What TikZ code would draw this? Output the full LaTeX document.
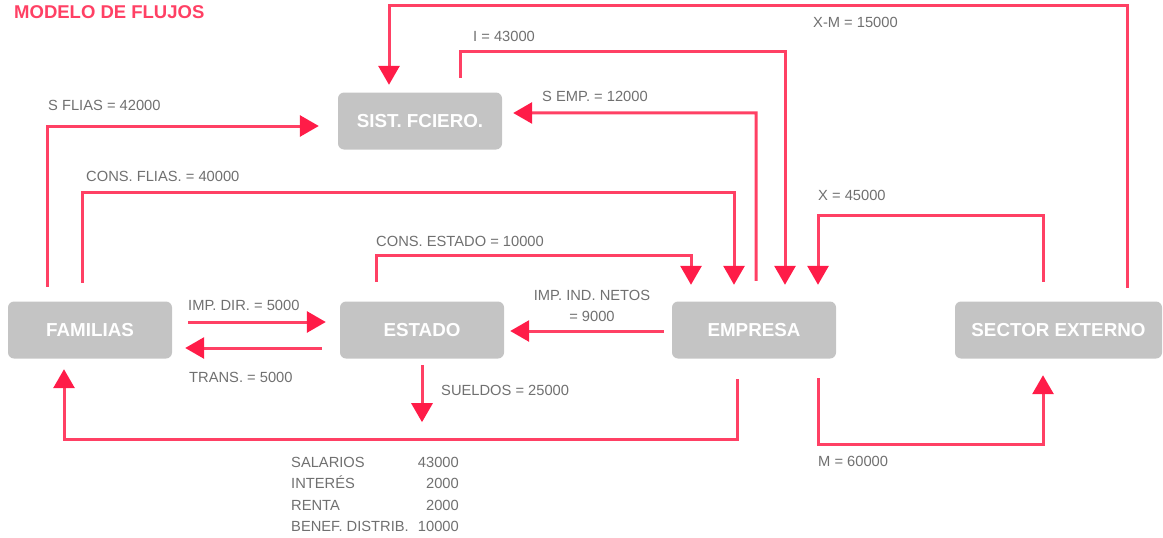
\documentclass[tikz,border=0pt]{standalone}
\usepackage{fontspec}
\setmainfont{Liberation Sans}
\usetikzlibrary{calc, arrows.meta}
\definecolor{flowred}{RGB}{255,64,100}
\definecolor{tipred}{RGB}{255,28,72}
\definecolor{boxgray}{RGB}{196,196,196}
\definecolor{txtgray}{RGB}{112,112,112}

\begin{document}
\begin{tikzpicture}[x=1pt, y=-1pt,
  sector/.style={fill=boxgray, rounded corners=6pt, minimum width=164pt,
    minimum height=57pt, inner sep=0pt, text=white,
    font=\fontsize{18.8}{20}\selectfont\bfseries},
  flow/.style={draw=flowred, line width=3pt,
    -{Triangle[width=21pt, length=19pt, color=tipred]}},
  lbl/.style={text=txtgray, font=\fontsize{14.7}{16}\selectfont,
    inner sep=0pt, text height=10.5pt, text depth=0pt}]
  \useasboundingbox (0,0) rectangle (1163,538);
  \node[anchor=west, inner sep=0pt, text=flowred, text height=13.3pt, text depth=0pt,
    font=\fontsize{18.5}{20}\selectfont\bfseries] (title) at (14,12) {MODELO DE FLUJOS};
  % sectores
  \node[sector] (sist) at (420,121) {SIST. FCIERO.};
  \node[sector] (fam) at (90,330) {FAMILIAS};
  \node[sector] (est) at (422,330) {ESTADO};
  \node[sector] (emp) at (754,330) {EMPRESA};
  \node[sector, minimum width=207pt] (ext) at (1058.5,330) {SECTOR EXTERNO};
  % flujos por arriba
  \draw[flow] ($(ext.north)+(68.5,-13.5)$) -- ++(0,-282) -| ($(sist.north)+(-31,-7.5)$);
  \draw[flow] ($(sist.north)+(40,-14.5)$) -- ++(0,-26) -| ($(emp.north)+(31,-16.5)$);
  \draw[flow] ($(emp.north)+(2,-20.5)$) -- ++(0,-168) -- ($(sist.east)+(11,-8)$);
  \draw[flow] ($(fam.north)+(-43,-14.5)$) |- ($(sist.west)+(-19,5)$);
  \draw[flow] ($(fam.north)+(-8,-18.5)$) -- ++(0,-90) -| ($(emp.north)+(-20,-16.5)$);
  \draw[flow] ($(est.north)+(-46,-19.5)$) -- ++(0,-26) -| ($(emp.north)+(-63,-16.5)$);
  \draw[flow] ($(ext.north)+(-15.5,-19.5)$) -- ++(0,-66) -| ($(emp.north)+(64,-16.5)$);
  % flujos horizontales
  \draw[flow] ($(fam.east)+(16,-8)$) -- ($(est.west)+(-14,-8)$);
  \draw[flow] ($(est.west)+(-18,18)$) -- ($(fam.east)+(13,18)$);
  \draw[flow] ($(emp.west)+(-8,1)$) -- ($(est.east)+(6,1)$);
  % flujos por abajo
  \draw[flow] ($(est.south)+(0,6.5)$) -- ++(0,57);
  \draw[flow] ($(emp.south)+(-17,20.5)$) -- ++(0,60) -| ($(fam.south)+(-26,10.5)$);
  \draw[flow] ($(emp.south)+(64,19.5)$) -- ++(0,66) -| ($(ext.south)+(-15.5,16.5)$);
  % etiquetas
  \node[lbl, anchor=west] (xm) at (813,22) {X-M = 15000};
  \node[lbl, anchor=west] (inv) at (473,36) {I = 43000};
  \node[lbl, anchor=west] (semp) at (542,96) {S EMP. = 12000};
  \node[lbl, anchor=west] (sflias) at (48,105) {S FLIAS = 42000};
  \node[lbl, anchor=west] (cflias) at (86,176) {CONS. FLIAS. = 40000};
  \node[lbl, anchor=west] (expo) at (818,195) {X = 45000};
  \node[lbl, anchor=west] (cest) at (376,241) {CONS. ESTADO = 10000};
  \node[lbl, anchor=west] (impdir) at (188,305) {IMP. DIR. = 5000};
  \node[lbl, anchor=west] (trans) at (189,377) {TRANS. = 5000};
  \node[lbl] (ind1) at (592,295) {IMP. IND. NETOS};
  \node[lbl] (ind2) at (592,316) {= 9000};
  \node[lbl, anchor=west] (sueldos) at (441,390) {SUELDOS = 25000};
  \node[lbl, anchor=west] (impo) at (818,461) {M = 60000};
  \foreach \rub/\val [count=\i] in {SALARIOS/43000, INTERÉS/2000, RENTA/2000, BENEF. DISTRIB./10000} {
    \node[lbl, anchor=west] (rub\i) at (291,440.5+21.5*\i) {\rub};
    \node[lbl, anchor=east] (val\i) at (459,440.5+21.5*\i) {\val};
  }
\end{tikzpicture}
\end{document}
